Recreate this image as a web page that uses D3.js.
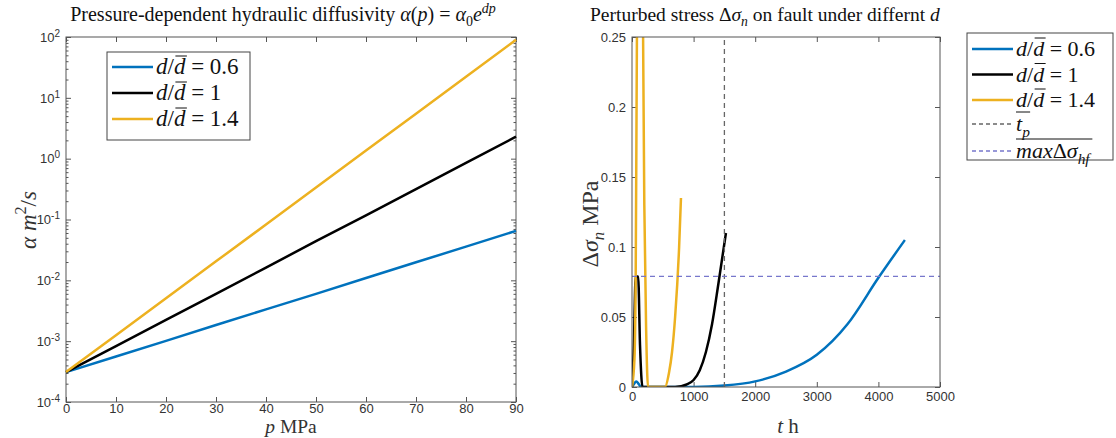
<!DOCTYPE html>
<html>
<head>
<meta charset="utf-8">
<script src="https://cdn.jsdelivr.net/npm/d3@7"></script>
<style>
body { margin: 0; background: #fff; }
svg text { font-family: "Liberation Sans", Arial, sans-serif; }
.serif, .serif tspan { font-family: "Liberation Serif", "DejaVu Serif", serif; }
</style>
</head>
<body>
<svg id="fig" width="1116" height="438"></svg>
<script>
// ---- left panel: alpha(p) for three d/dbar
var pVals = [0, 10, 20, 30, 40, 50, 60, 70, 80, 90];
var alphaLow  = [3.1e-4, 5.6e-4, 1.01e-3, 1.84e-3, 3.33e-3, 6.0e-3, 1.09e-2, 1.98e-2, 3.58e-2, 6.5e-2];
var alphaMid  = [3.1e-4, 8.3e-4, 2.24e-3, 6.0e-3, 1.62e-2, 4.4e-2, 0.117, 0.316, 0.85, 2.3];
var alphaHigh = [3.1e-4, 1.25e-3, 5.06e-3, 2.05e-2, 8.28e-2, 0.335, 1.36, 5.48, 22.2, 89.8];
var logExps = [-4, -3, -2, -1, 0, 1, 2];
var pTicks = [0, 10, 20, 30, 40, 50, 60, 70, 80, 90];

// ---- right panel: perturbed stress vs t
var tLow  = [0, 30, 70, 110, 150, 300, 1000, 1500, 2000, 2500, 3000, 3500, 4000, 4430];
var sLow  = [0, 0.002, 0.004, 0.002, 0, 0, 0, 0.001, 0.004, 0.011, 0.023, 0.045, 0.078, 0.105];
var tMid  = [0, 30, 60, 100, 130, 170, 400, 700, 900, 1000, 1100, 1200, 1300, 1400, 1525];
var sMid  = [0, 0.03, 0.079, 0.079, 0.03, 0, 0, 0, 0.002, 0.005, 0.012, 0.025, 0.045, 0.073, 0.11];
var tHigh = [0, 40, 60, 80, 100, 160, 180, 200, 230, 260, 400, 535, 600, 650, 700, 765, 795];
var sHigh = [0, 0.02, 0.08, 0.25, 0.35, 0.35, 0.25, 0.13, 0.04, 0, 0, 0, 0.01, 0.025, 0.05, 0.1, 0.135];
var tP = 1500;
var maxHf = 0.079;
var tTicks = [0, 1000, 2000, 3000, 4000, 5000];
var sTicks = [0, 0.05, 0.1, 0.15, 0.2, 0.25];

var ratios = ["0.6", "1", "1.4"];
var colors = ["#0072BD", "#000000", "#EDB120"];

var svg = d3.select("#fig");
var axisColor = "#555", labelColor = "#333";

// rich text helper: parts = [[string, flags]], flags: i italic, b sub, p sup
function rich(sel, parts, size) {
  var off = 0;
  parts.forEach(function (p) {
    var f = p[1] || "";
    var target = f.indexOf("b") >= 0 ? 0.25 * size : f.indexOf("p") >= 0 ? -0.42 * size : 0;
    var ts = sel.append("tspan").text(p[0]).attr("dy", target - off);
    if (f.indexOf("i") >= 0) ts.attr("font-style", "italic");
    if (target !== 0) ts.attr("font-size", (0.7 * size) + "px");
    off = target;
  });
  return sel;
}

function styleAxis(g) {
  g.select(".domain").remove();
  g.selectAll(".tick line").attr("stroke", axisColor);
  g.selectAll(".tick text").attr("fill", labelColor).attr("font-size", "13px");
}

function frame(x0, x1, y0, y1) {
  svg.append("rect").attr("x", x0).attr("y", y1).attr("width", x1 - x0).attr("height", y0 - y1)
    .attr("fill", "none").attr("stroke", axisColor).attr("stroke-width", 1);
}

// ================= LEFT =================
var xL = d3.scaleLinear().domain([0, 90]).range([66, 516]);
var yL = d3.scaleLog().domain([1e-4, 1e2]).range([402, 37]);

var gxl = svg.append("g").attr("transform", "translate(0,402)")
  .call(d3.axisBottom(xL).tickValues(pTicks).tickSizeInner(-5).tickSizeOuter(0).tickPadding(2)
    .tickFormat(d3.format("d")));
styleAxis(gxl);
var gxlt = svg.append("g").attr("transform", "translate(0,37)")
  .call(d3.axisTop(xL).tickValues(pTicks).tickSizeInner(-5).tickSizeOuter(0).tickFormat(""));
styleAxis(gxlt);

var majors = logExps.map(function (e) { return Math.pow(10, e); });
var minors = [];
logExps.slice(0, -1).forEach(function (e) {
  for (var k = 2; k <= 9; k++) minors.push(k * Math.pow(10, e));
});
var gyl = svg.append("g").attr("transform", "translate(66,0)")
  .call(d3.axisLeft(yL).tickValues(majors).tickSizeInner(-5).tickSizeOuter(0).tickPadding(6).tickFormat(""));
styleAxis(gyl);
gyl.selectAll(".tick text").each(function (d) {
  var t = d3.select(this);
  t.text("10");
  t.append("tspan").attr("dy", "-0.5em").attr("font-size", "10px").text(Math.round(Math.log10(d)));
});
[["axisLeft", 66], ["axisRight", 516]].forEach(function (a) {
  var g = svg.append("g").attr("transform", "translate(" + a[1] + ",0)")
    .call(d3[a[0]](yL).tickValues(minors).tickSizeInner(-2.5).tickSizeOuter(0).tickFormat(""));
  styleAxis(g);
});
var gylr = svg.append("g").attr("transform", "translate(516,0)")
  .call(d3.axisRight(yL).tickValues(majors).tickSizeInner(-5).tickSizeOuter(0).tickFormat(""));
styleAxis(gylr);

frame(66, 516, 402, 37);

var lineL = d3.line().x(function (d) { return xL(d[0]); }).y(function (d) { return yL(d[1]); });
[alphaLow, alphaMid, alphaHigh].forEach(function (vals, i) {
  svg.append("path").datum(pVals.map(function (p, j) { return [p, vals[j]]; }))
    .attr("d", lineL).attr("fill", "none").attr("stroke", colors[i]).attr("stroke-width", 2.5);
});

// titles / labels left
rich(svg.append("text").attr("class", "serif").attr("x", 283).attr("y", 21).attr("text-anchor", "middle")
  .attr("font-size", "20px").attr("fill", "#111"),
  [["Pressure-dependent hydraulic diffusivity "], ["α", "i"], ["("], ["p", "i"], [") = "], ["α", "i"], ["0", "b"], ["e", "i"], ["dp", "ip"]], 20);
rich(svg.append("text").attr("class", "serif").attr("x", 291).attr("y", 433).attr("text-anchor", "middle")
  .attr("font-size", "19.5px").attr("fill", "#333"),
  [["p", "i"], [" MPa"]], 19.5);
rich(svg.append("text").attr("class", "serif").attr("transform", "translate(36,220) rotate(-90)")
  .attr("text-anchor", "middle").attr("font-size", "23px").attr("fill", "#333"),
  [["α", "i"], [" "], ["m", "i"], ["2", "p"], ["/"], ["s", "i"]], 23);

// legend builder
function legend(x, y, w, h, rows, fs) {
  svg.append("rect").attr("x", x).attr("y", y).attr("width", w).attr("height", h)
    .attr("fill", "#fff").attr("stroke", "#444").attr("stroke-width", 1);
  rows.forEach(function (r) {
    svg.append("line").attr("x1", x + 5).attr("x2", x + 46).attr("y1", r.y).attr("y2", r.y)
      .attr("stroke", r.color).attr("stroke-width", r.dash ? 1.3 : 2.5)
      .attr("stroke-dasharray", r.dash ? "4,3" : null);
    var t = svg.append("text").attr("class", "serif").attr("x", x + 49).attr("y", r.y + 7)
      .attr("font-size", fs + "px").attr("fill", "#111");
    rich(t, r.parts, fs);
    if (r.barChar !== undefined) {
      var e = t.node().getExtentOfChar(r.barChar);
      svg.append("line").attr("x1", e.x + 1.5).attr("x2", e.x + e.width + 1.5).attr("y1", e.y + 2).attr("y2", e.y + 2)
        .attr("stroke", "#111").attr("stroke-width", 1);
    }
    if (r.barAll) {
      var b = t.node().getBBox();
      svg.append("line").attr("x1", b.x).attr("x2", b.x + b.width).attr("y1", b.y + 1).attr("y2", b.y + 1)
        .attr("stroke", "#111").attr("stroke-width", 1);
    }
  });
}
function ratioRows(y0, step) {
  return ratios.map(function (r, i) {
    return { y: y0 + i * step, color: colors[i], parts: [["d", "i"], ["/"], ["d", "i"], [" = " + r]], barChar: 2 };
  });
}
legend(107, 52, 143, 88, ratioRows(67, 26), 23);

// ================= RIGHT =================
var xR = d3.scaleLinear().domain([0, 5000]).range([632, 940]);
var yR = d3.scaleLinear().domain([0, 0.25]).range([387, 37]);

var gxr = svg.append("g").attr("transform", "translate(0,387)")
  .call(d3.axisBottom(xR).tickValues(tTicks).tickSizeInner(-5).tickSizeOuter(0).tickPadding(5)
    .tickFormat(d3.format("d")));
styleAxis(gxr);
var gxrt = svg.append("g").attr("transform", "translate(0,37)")
  .call(d3.axisTop(xR).tickValues(tTicks).tickSizeInner(-5).tickSizeOuter(0).tickFormat(""));
styleAxis(gxrt);
var gyr = svg.append("g").attr("transform", "translate(632,0)")
  .call(d3.axisLeft(yR).tickValues(sTicks).tickSizeInner(-5).tickSizeOuter(0).tickPadding(6)
    .tickFormat(function (d) { return String(+d.toFixed(2)); }));
styleAxis(gyr);
var gyrr = svg.append("g").attr("transform", "translate(940,0)")
  .call(d3.axisRight(yR).tickValues(sTicks).tickSizeInner(-5).tickSizeOuter(0).tickFormat(""));
styleAxis(gyrr);

svg.append("clipPath").attr("id", "clipR").append("rect")
  .attr("x", 632).attr("y", 37).attr("width", 308).attr("height", 350);
var plotR = svg.append("g").attr("clip-path", "url(#clipR)");

var lineR = d3.line().curve(d3.curveMonotoneX)
  .x(function (d) { return xR(d[0]); }).y(function (d) { return yR(d[1]); });
[[tLow, sLow], [tMid, sMid], [tHigh, sHigh]].forEach(function (s, i) {
  plotR.append("path").datum(s[0].map(function (t, j) { return [t, s[1][j]]; }))
    .attr("d", lineR).attr("fill", "none").attr("stroke", colors[i]).attr("stroke-width", 2.5);
});
plotR.append("line").attr("x1", xR(tP)).attr("x2", xR(tP)).attr("y1", yR(0)).attr("y2", yR(0.25))
  .attr("stroke", "#666").attr("stroke-width", 1.3).attr("stroke-dasharray", "5,4");
plotR.append("line").attr("x1", xR(0)).attr("x2", xR(5000)).attr("y1", yR(maxHf)).attr("y2", yR(maxHf))
  .attr("stroke", "#7777cc").attr("stroke-width", 1.3).attr("stroke-dasharray", "5,4");

frame(632, 940, 387, 37);

rich(svg.append("text").attr("class", "serif").attr("x", 590).attr("y", 21)
  .attr("font-size", "19.5px").attr("fill", "#111"),
  [["Perturbed stress Δ"], ["σ", "i"], ["n", "ib"], [" on fault under differnt "], ["d", "i"]], 19.5);
rich(svg.append("text").attr("class", "serif").attr("x", 788).attr("y", 433).attr("text-anchor", "middle")
  .attr("font-size", "21px").attr("fill", "#333"),
  [["t", "i"], [" h"]], 21);
rich(svg.append("text").attr("class", "serif").attr("transform", "translate(598,224) rotate(-90)")
  .attr("text-anchor", "middle").attr("font-size", "24px").attr("fill", "#333"),
  [["Δ"], ["σ", "i"], ["n", "ib"], [" MPa"]], 24);

var rowsR = ratioRows(49, 25.5).concat([
  { y: 124, color: "#666", dash: true, parts: [["t", "i"], ["p", "ib"]], barAll: true },
  { y: 151, color: "#7777cc", dash: true, parts: [["max", "i"], ["Δ"], ["σ", "i"], ["hf", "ib"]], barAll: true }
]);
legend(967, 33, 146, 127, rowsR, 22);
</script>
</body>
</html>
